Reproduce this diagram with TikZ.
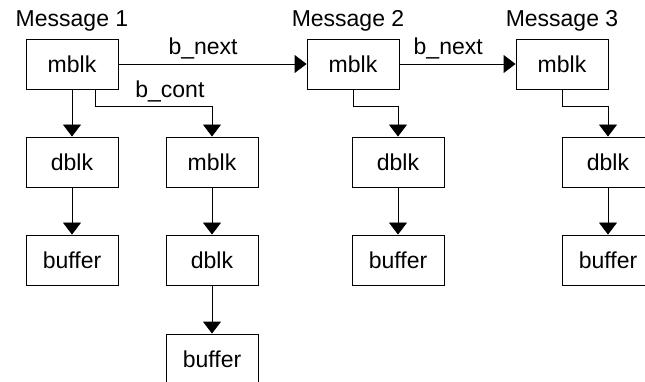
\documentclass[tikz,border=0pt]{standalone}
\usepackage{fontspec}
\setmainfont{Liberation Sans}
\usetikzlibrary{arrows.meta}

\begin{document}
\begin{tikzpicture}[x=1pt,y=-1pt,
    font=\fontsize{23}{27}\selectfont,
    blk/.style={draw,line width=0.9pt,minimum width=92pt,minimum height=50pt,inner sep=0pt},
    link/.style={line width=0.9pt,-{Triangle[width=18pt,length=12pt]}},
    lbl/.style={anchor=base,yshift=9pt}]
    \useasboundingbox (0,0) rectangle (645,382);

    % message 1
    \node[blk] (mblk1) at (72,64) {mblk};
    \node[blk] (dblk1) at (72,162) {dblk};
    \node[blk] (buf1) at (72,260) {buffer};
    \node[blk] (mblk4) at (212,162) {mblk};
    \node[blk] (dblk4) at (212,260) {dblk};
    \node[blk] (buf4) at (212,359) {buffer};

    % message 2
    \node[blk] (mblk2) at (353,64) {mblk};
    \node[blk] (dblk2) at (398,162) {dblk};
    \node[blk] (buf2) at (398,260) {buffer};

    % message 3
    \node[blk] (mblk3) at (562,64) {mblk};
    \node[blk] (dblk3) at (608,162) {dblk};
    \node[blk] (buf3) at (608,260) {buffer};

    \node[anchor=base] (msg1) at ([yshift=12pt]mblk1.north) {Message 1};
    \node[anchor=base] (msg2) at ([xshift=-5pt,yshift=12pt]mblk2.north) {Message 2};
    \node[anchor=base] (msg3) at ([yshift=12pt]mblk3.north) {Message 3};

    \draw[link] (mblk1) -- node[lbl,pos=0.45] {b\_next} (mblk2);
    \draw[link] (mblk2) -- node[lbl,pos=0.42] {b\_next} (mblk3);

    \draw[link] (mblk1) -- (dblk1);
    \draw[link] (dblk1) -- (buf1);
    \draw[link] ([xshift=23pt]mblk1.south) -- ++(0,17) -| node[lbl,pos=0.32] {b\_cont} (mblk4.north);
    \draw[link] (mblk4) -- (dblk4);
    \draw[link] (dblk4) -- (buf4);

    \draw[link] (mblk2.south) -- ++(0,17) -| (dblk2.north);
    \draw[link] (dblk2) -- (buf2);
    \draw[link] (mblk3.south) -- ++(0,17) -| (dblk3.north);
    \draw[link] (dblk3) -- (buf3);
\end{tikzpicture}
\end{document}
